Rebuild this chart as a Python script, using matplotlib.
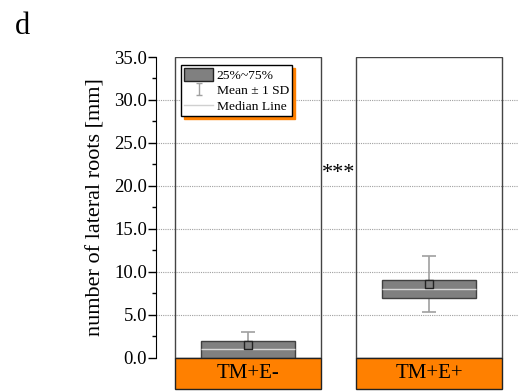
import matplotlib
matplotlib.use('Agg')
import matplotlib.pyplot as plt
import numpy as np
from matplotlib.patches import Rectangle, Patch
from matplotlib.lines import Line2D
from matplotlib.path import Path

groups = ['TM+E-', 'TM+E+']
q1 = [0.0, 7.0]
q3 = [2.0, 9.0]
medians = [1.0, 8.0]
means = [1.5, 8.58]
sds = [1.53, 3.26]
ytick_vals = [0, 5, 10, 15, 20, 25, 30, 35]

ORANGE = '#FF8000'
BOX = '#808080'

plt.rcParams['font.family'] = ['Liberation Serif', 'DejaVu Serif']

fig = plt.figure(figsize=(5.18, 3.91), dpi=100)
ax = fig.add_axes([156/518, 1.7/391, 362/518, 332.3/391])
ymin = -3.68
ax.set_ylim(ymin, 35)
ax.set_xlim(-0.508, 1.492)
x = np.arange(len(groups))
pw = 0.402   # half panel width
bw = 0.258   # half box width

# grid
for v in ytick_vals[1:-1]:
    ax.axhline(v, color='#a0a0a0', lw=0.8, ls=(0, (1, 1)), zorder=0)

for i, c in enumerate(x):
    ax.add_patch(Rectangle((c - pw, 0), 2 * pw, 35, facecolor='none',
                           edgecolor='#444444', lw=1, zorder=1))
    ax.add_patch(Rectangle((c - pw, ymin), 2 * pw, -ymin, facecolor=ORANGE,
                           edgecolor='#222222', lw=1, zorder=5, clip_on=False))
    ax.text(c, ymin / 2, groups[i], ha='center', va='center', fontsize=15, zorder=6)

ax.errorbar(x, means, yerr=sds, fmt='none', ecolor='#a0a0a0', elinewidth=1.2,
            capsize=5, capthick=1.2, zorder=2)
ax.bar(x, np.array(q3) - np.array(q1), bottom=q1, width=2 * bw, color=BOX,
       edgecolor='#404040', lw=1, zorder=3)
ax.hlines(medians, x - bw, x + bw, color='#d8d8d8', lw=1, zorder=4)
ax.scatter(x, means, marker='s', s=30, facecolor=BOX, edgecolor='#222222',
           lw=1, zorder=4)

ax.text(0.5, 21.4, '***', ha='center', va='center', fontsize=16)

for s in ['top', 'right', 'bottom']:
    ax.spines[s].set_visible(False)
ax.spines['left'].set_bounds(0, 35)
ax.set_xticks([])
ax.set_yticks(ytick_vals)
ax.set_yticks(np.arange(2.5, 35, 5), minor=True)
ax.set_yticklabels([f'{v:.1f}' for v in ytick_vals], fontsize=13.5)
ax.tick_params(axis='y', which='major', length=5.5, width=1, pad=1)
ax.tick_params(axis='y', which='minor', length=3, width=1)
ax.set_ylabel('number of lateral roots [mm]', fontsize=16)
ax.yaxis.set_label_coords(-0.14, (17.5 - ymin) / (35 - ymin))

# legend
sd_marker = Path([(-0.5, 1), (0.5, 1), (0, 1), (0, -1), (-0.5, -1), (0.5, -1)],
                 [Path.MOVETO, Path.LINETO, Path.MOVETO, Path.LINETO,
                  Path.MOVETO, Path.LINETO])
handles = [Patch(facecolor=BOX, edgecolor='#222222', lw=1),
           Line2D([], [], ls='none', marker=sd_marker, markersize=9,
                  markeredgecolor='#a0a0a0', markerfacecolor='none', mew=1),
           Line2D([], [], color='#d0d0d0', lw=1)]
labels = ['25%~75%', 'Mean ± 1 SD', 'Median Line']
leg = ax.legend(handles, labels, loc='upper left',
                bbox_to_anchor=(181/518, 1 - 65/391), bbox_transform=fig.transFigure,
                borderaxespad=0, fontsize=9.7, fancybox=False, framealpha=1,
                edgecolor='black', handlelength=2.2, handleheight=1.1,
                labelspacing=0.12, borderpad=0.2, handletextpad=0.25,
                shadow={'ox': 2.3, 'oy': -2.3, 'facecolor': ORANGE,
                        'edgecolor': ORANGE, 'alpha': 1})
leg.get_frame().set_linewidth(1)
leg.set_zorder(7)

fig.text(15/518, 1 - 34/391, 'd', fontsize=22, va='baseline', ha='left')

fig.savefig('out.png', dpi=100)
